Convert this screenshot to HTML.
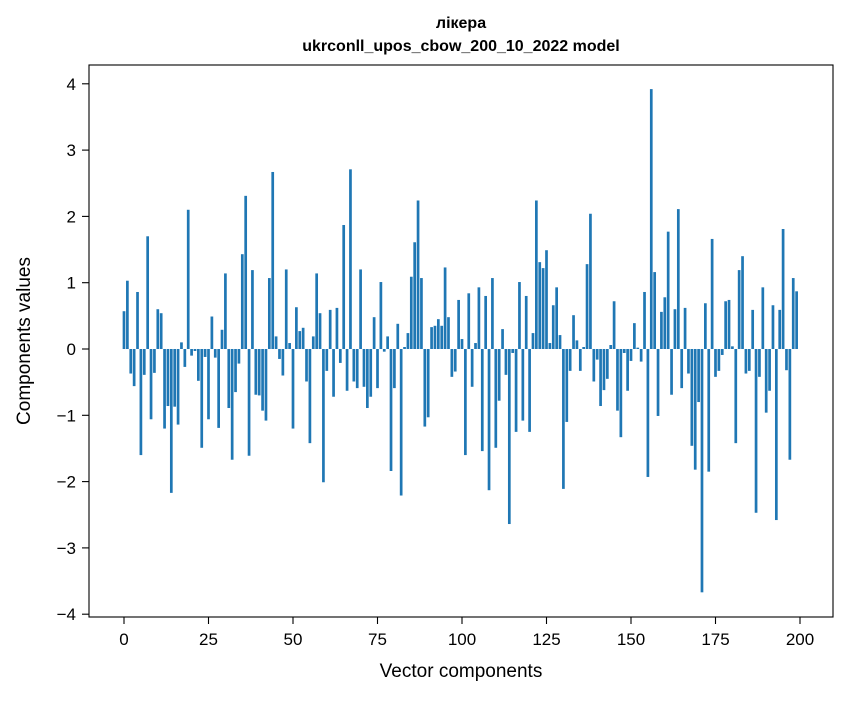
<!DOCTYPE html>
<html><head><meta charset="utf-8"><style>
body{margin:0;background:#fff;}
svg text{font-family:"Liberation Sans","DejaVu Sans",sans-serif;fill:#000;}
</style></head><body>
<svg id="chart" width="847" height="696" viewBox="0 0 847 696" xmlns="http://www.w3.org/2000/svg">
<rect x="0" y="0" width="847" height="696" fill="#fff"/>
<text x="461" y="28" text-anchor="middle" font-size="16" font-weight="bold">лікера</text>
<text x="461" y="51" text-anchor="middle" font-size="16" font-weight="bold">ukrconll_upos_cbow_200_10_2022 model</text>
<g id="bars"></g>
<g id="xaxis"></g>
<g id="yaxis"></g>
<rect x="89" y="65" width="744" height="552" fill="none" stroke="#000" stroke-width="1.1"/>
<text x="461" y="677" text-anchor="middle" font-size="19">Vector components</text>
<text transform="translate(30,341) rotate(-90)" text-anchor="middle" font-size="19">Components values</text>
</svg>
<script>
const values = [0.57,1.03,-0.37,-0.56,0.86,-1.60,-0.39,1.70,-1.06,-0.36,
0.60,0.54,-1.20,-0.86,-2.17,-0.87,-1.14,0.10,-0.27,2.10,
-0.10,-0.03,-0.48,-1.49,-0.12,-1.06,0.49,-0.13,-1.19,0.29,
1.14,-0.89,-1.67,-0.65,-0.22,1.43,2.31,-1.61,1.19,-0.69,
-0.70,-0.93,-1.08,1.07,2.67,0.19,-0.15,-0.40,1.20,0.09,
-1.20,0.63,0.27,0.32,-0.49,-1.42,0.19,1.14,0.54,-2.01,
-0.33,0.59,-0.72,0.62,-0.21,1.87,-0.63,2.71,-0.49,-0.59,
1.20,-0.57,-0.89,-0.72,0.48,-0.59,1.01,-0.04,0.19,-1.84,
-0.59,0.38,-2.21,0.03,0.24,1.09,1.61,2.24,1.07,-1.17,
-1.03,0.33,0.35,0.45,0.35,1.23,0.48,-0.42,-0.34,0.74,
0.15,-1.60,0.84,-0.57,0.09,0.93,-1.54,0.80,-2.13,1.07,
-1.49,-0.78,0.30,-0.39,-2.64,-0.06,-1.25,1.01,-1.08,0.80,
-1.25,0.24,2.24,1.31,1.22,1.49,0.09,0.66,0.93,0.21,
-2.11,-1.10,-0.33,0.51,0.13,-0.33,0.03,1.28,2.04,-0.49,
-0.16,-0.86,-0.62,-0.45,0.06,0.72,-0.93,-1.33,-0.06,-0.63,
-0.18,0.39,0.02,-0.19,0.86,-1.93,3.92,1.16,-1.01,0.56,
0.78,1.77,-0.69,0.60,2.11,-0.59,0.62,-0.37,-1.46,-1.82,
-0.80,-3.67,0.69,-1.85,1.66,-0.42,-0.33,-0.09,0.72,0.74,
0.04,-1.42,1.19,1.40,-0.37,-0.33,0.59,-2.47,-0.42,0.93,
-0.96,-0.63,0.66,-2.58,0.59,1.81,-0.32,-1.67,1.07,0.87];
const xTicks = [0,25,50,75,100,125,150,175,200];
const yTicks = [-4,-3,-2,-1,0,1,2,3,4];
const yTickLabels = ["\u22124","\u22123","\u22122","\u22121","0","1","2","3","4"];

const NS="http://www.w3.org/2000/svg";
function xs(v){return 124+(v*3.38);}
function ys(v){return 349-v*66.3;}
const barsG=document.getElementById('bars');
values.forEach((v,i)=>{
  const r=document.createElementNS(NS,'rect');
  const x0=xs(i-0.4), x1=xs(i+0.4);
  const y0=Math.min(ys(v),ys(0)), h=Math.abs(ys(v)-ys(0));
  r.setAttribute('x',x0);r.setAttribute('y',y0);
  r.setAttribute('width',x1-x0);r.setAttribute('height',h);
  r.setAttribute('fill','#1f77b4');
  
  
  barsG.appendChild(r);
});
const xg=document.getElementById('xaxis');
xTicks.forEach(t=>{
  const l=document.createElementNS(NS,'line');
  l.setAttribute('x1',xs(t));l.setAttribute('x2',xs(t));
  l.setAttribute('y1',617);l.setAttribute('y2',624);
  l.setAttribute('stroke','#000');l.setAttribute('stroke-width','1.1');
  
  
  xg.appendChild(l);
  const tx=document.createElementNS(NS,'text');
  tx.setAttribute('x',xs(t));tx.setAttribute('y',645);
  tx.setAttribute('text-anchor','middle');tx.setAttribute('font-size','17');
  tx.textContent=t;
  
  
  xg.appendChild(tx);
});
const yg=document.getElementById('yaxis');
yTicks.forEach((t,i)=>{
  const l=document.createElementNS(NS,'line');
  l.setAttribute('x1',82);l.setAttribute('x2',89);
  l.setAttribute('y1',ys(t));l.setAttribute('y2',ys(t));
  l.setAttribute('stroke','#000');l.setAttribute('stroke-width','1.1');
  
  
  yg.appendChild(l);
  const tx=document.createElementNS(NS,'text');
  tx.setAttribute('x',76);tx.setAttribute('y',ys(t)+6);
  tx.setAttribute('text-anchor','end');tx.setAttribute('font-size','17');
  tx.textContent=yTickLabels[i];
  
  
  yg.appendChild(tx);
});
</script>
</body></html>
